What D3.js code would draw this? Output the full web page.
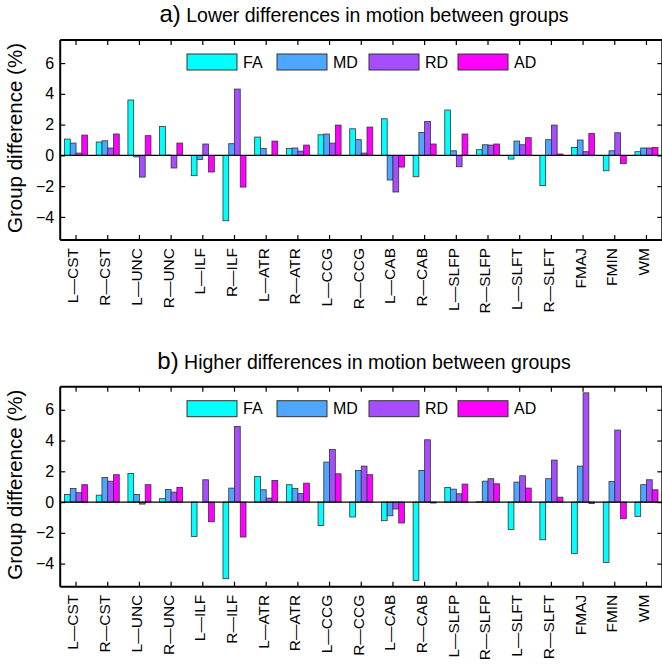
<!DOCTYPE html>
<html><head><meta charset="utf-8">
<script src="https://cdn.jsdelivr.net/npm/d3@7"></script>
<style>body{margin:0;background:#fff}svg{display:block}text{font-family:"Liberation Sans",Arial,Helvetica,sans-serif;fill:#000}</style>
</head><body>
<svg id="chart" width="662" height="665"></svg>
<script>
const categories = ["L—CST","R—CST","L—UNC","R—UNC","L—ILF","R—ILF","L—ATR","R—ATR","L—CCG","R—CCG","L—CAB","R—CAB","L—SLFP","R—SLFP","L—SLFT","R—SLFT","FMAJ","FMIN","WM"];
const seriesNames = ["FA","MD","RD","AD"];
const seriesColors = ["#00ffff","#4da6ff","#a64dff","#ff00ff"];
const yTicks = [-4,-2,0,2,4,6];

// Panel a: lower differences in motion
const aFA = [1.06,0.87,3.60,1.88,-1.32,-4.25,1.19,0.45,1.34,1.73,2.38,-1.39,2.95,0.37,-0.24,-1.97,0.52,-1.00,0.24];
const aMD = [0.80,0.95,-0.10,0.02,-0.26,0.76,0.45,0.48,1.39,1.02,-1.60,1.49,0.30,0.69,0.93,1.02,1.00,0.30,0.48];
const aRD = [0.15,0.48,-1.41,-0.82,0.74,4.31,0.02,0.28,0.80,0.15,-2.38,2.21,-0.74,0.67,0.69,1.97,0.24,1.47,0.48];
const aAD = [1.32,1.39,1.28,0.80,-1.08,-2.06,0.93,0.67,1.97,1.84,-0.76,0.74,1.39,0.74,1.15,0.09,1.43,-0.54,0.52];

// Panel b: higher differences in motion
const bFA = [0.50,0.45,1.86,0.22,-2.23,-4.98,1.67,1.13,-1.52,-0.97,-1.21,-5.10,0.95,0.02,-1.78,-2.45,-3.34,-3.92,-0.93];
const bMD = [0.89,1.60,0.50,0.82,0.00,0.91,0.80,0.89,2.60,2.06,-0.89,2.06,0.84,1.36,1.30,1.52,2.34,1.34,1.13];
const bRD = [0.61,1.36,-0.13,0.65,1.45,4.92,0.26,0.56,3.42,2.34,-0.45,4.05,0.54,1.52,1.71,2.73,7.10,4.68,1.45];
const bAD = [1.13,1.78,1.13,0.95,-1.28,-2.27,1.41,1.23,1.84,1.78,-1.36,-0.06,1.17,1.19,0.91,0.32,-0.09,-1.08,0.80];

const panels = [
  {label:"a)", title:"Lower differences in motion between groups", data:[aFA,aMD,aRD,aAD], top:40},
  {label:"b)", title:"Higher differences in motion between groups", data:[bFA,bMD,bRD,bAD], top:386.7}
];

const svg = d3.select("#chart");
const left = 60.2, right = 662.3, plotH = 200;

panels.forEach(p => {
  const g = svg.append("g");
  const x = d3.scaleBand().domain(categories).range([left, right]).padding(0);
  const bw = x.bandwidth();
  const groupW = bw * 0.727;
  const xs = d3.scaleBand().domain(seriesNames).range([-groupW/2, groupW/2]).padding(0);
  const y = d3.scaleLinear().domain([-5.5, 7.5]).range([p.top + plotH, p.top]);

  // title
  const t = g.append("text").attr("x", 364).attr("y", p.top - 18).attr("text-anchor","middle");
  t.append("tspan").attr("font-size", 24).text(p.label);
  t.append("tspan").attr("font-size", 19.5).text(" " + p.title);

  // bars
  p.data.forEach((vals, si) => {
    g.append("g").selectAll("rect").data(vals).join("rect")
      .attr("x", (d,i) => x(categories[i]) + bw/2 + xs(seriesNames[si]))
      .attr("width", xs.bandwidth())
      .attr("y", d => y(Math.max(0,d)))
      .attr("height", d => Math.abs(y(d) - y(0)))
      .attr("fill", seriesColors[si])
      .attr("stroke", "#333")
      .attr("stroke-width", 0.8);
  });

  // zero line
  g.append("line").attr("x1", left).attr("x2", right).attr("y1", y(0)).attr("y2", y(0))
    .attr("stroke","#000").attr("stroke-width",1.3);

  // axes (ticks inward)
  const fmt = d => d < 0 ? "−" + Math.abs(d) : String(d);
  const yl = g.append("g").attr("transform", `translate(${left},0)`)
    .call(d3.axisLeft(y).tickValues(yTicks).tickSize(-5).tickPadding(6).tickFormat(fmt));
  const yr = g.append("g").attr("transform", `translate(${right},0)`)
    .call(d3.axisRight(y).tickValues(yTicks).tickSize(-5).tickFormat(""));
  const xb = g.append("g").attr("transform", `translate(0,${p.top + plotH})`)
    .call(d3.axisBottom(x).tickSize(-5).tickFormat(""));
  const xt = g.append("g").attr("transform", `translate(0,${p.top})`)
    .call(d3.axisTop(x).tickSize(-5).tickFormat(""));
  [yl, yr, xb, xt].forEach(a => {
    a.select(".domain").attr("stroke","#000").attr("stroke-width",2);
    a.selectAll(".tick line").attr("stroke","#000").attr("stroke-width",1.2);
  });
  yl.selectAll(".tick text").attr("font-size", 16).attr("font-family","Liberation Sans, Arial, sans-serif");
  [yl, yr].forEach(a => a.select(".domain").attr("d", `M0,${p.top}V${p.top+plotH}`));
  [xb, xt].forEach(a => a.select(".domain").attr("d", `M${left},0H${right}`));

  // category labels
  g.append("g").selectAll("text").data(categories).join("text")
    .attr("transform", d => `translate(${x(d) + bw/2 - 3},${p.top + plotH + 8}) rotate(-90)`)
    .attr("text-anchor","end").attr("dy","0.35em").attr("font-size", 15.5)
    .text(d => d);

  // y label
  g.append("text").attr("transform", `translate(22,${p.top + plotH/2 - 2}) rotate(-90)`)
    .attr("text-anchor","middle").attr("font-size", 20.5).text("Group difference (%)");

  // legend
  const legX = [187, 277, 369, 458];
  const leg = g.append("g");
  seriesNames.forEach((s, i) => {
    leg.append("rect").attr("x", legX[i]).attr("y", p.top + 14).attr("width", 50).attr("height", 16)
      .attr("fill", seriesColors[i]).attr("stroke","#333").attr("stroke-width",1);
    leg.append("text").attr("x", legX[i] + 56).attr("y", p.top + 22).attr("dy","0.35em")
      .attr("font-size", 16).text(s);
  });
});
</script>
</body></html>
